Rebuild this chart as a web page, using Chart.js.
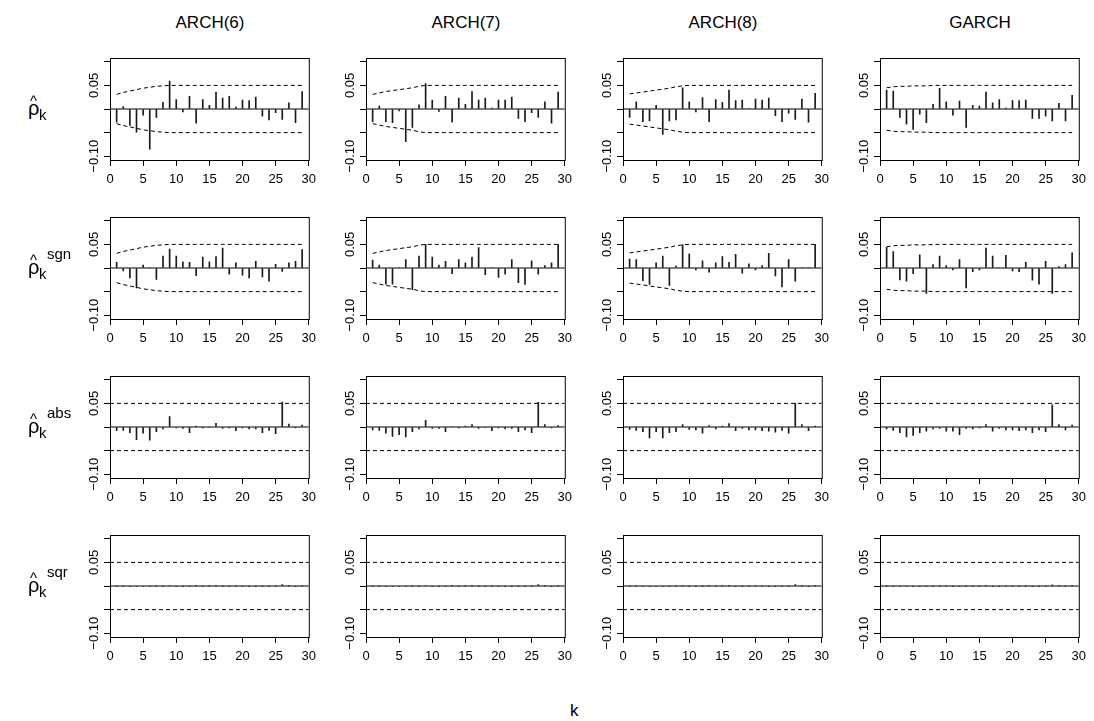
<!DOCTYPE html>
<html lang="en">
<head>
<meta charset="UTF-8">
<title>Residual autocorrelations</title>
<script src="https://cdn.jsdelivr.net/npm/chart.js@4"></script>
<style>
  body { margin: 0; background: #fff; font-family: "Liberation Sans", Arial, Helvetica, sans-serif; }
  #page { position: relative; width: 1094px; height: 721px; overflow: hidden; }
  canvas { position: absolute; }
  .txt { position: absolute; white-space: nowrap; line-height: 1; color: #000; }
</style>
</head>
<body>
<div id="page"></div>
<script>
// lags shown in every panel
const lags = [1,2,3,4,5,6,7,8,9,10,11,12,13,14,15,16,17,18,19,20,21,22,23,24,25,26,27,28,29];
const models = ['ARCH(6)', 'ARCH(7)', 'ARCH(8)', 'GARCH'];
const rowSup = ['', 'sgn', 'abs', 'sqr'];
const xTicks = [0, 5, 10, 15, 20, 25, 30];
const yTicks = [-0.10, -0.05, 0, 0.05, 0.10];
const yTickLabels = ['\u22120.10', '', '', '0.05', ''];
const xRange = [0, 30];
const yRange = [-0.108, 0.108];

// plain residual autocorrelations
const rawArch6 = [-0.028,0.005,-0.035,-0.049,-0.013,-0.085,-0.018,0.014,0.059,0.020,-0.006,0.027,-0.030,0.020,0.008,0.036,0.023,0.027,0.004,0.019,0.018,0.025,-0.015,-0.023,-0.008,-0.022,0.013,-0.029,0.037];
const rawArch7 = [-0.027,0.006,-0.027,-0.029,-0.004,-0.069,-0.039,0.009,0.054,0.019,-0.005,0.027,-0.028,0.023,0.010,0.037,0.019,0.023,0.002,0.019,0.019,0.025,-0.020,-0.027,-0.008,-0.018,0.015,-0.030,0.036];
const rawArch8 = [-0.018,0.015,-0.027,-0.025,0.008,-0.054,-0.025,-0.023,0.045,0.015,-0.006,0.024,-0.027,0.020,0.014,0.040,0.018,0.019,0.001,0.021,0.019,0.023,-0.014,-0.027,-0.009,-0.022,0.021,-0.028,0.033];
const rawGarch = [0.040,0.038,-0.018,-0.032,-0.043,-0.011,-0.029,0.010,0.044,0.015,-0.013,0.017,-0.039,0.008,0.006,0.036,0.013,0.020,0.002,0.018,0.018,0.019,-0.020,-0.020,-0.015,-0.025,0.012,-0.025,0.029];

// sign autocorrelations
const sgnArch6 = [0.012,-0.006,-0.021,-0.042,0.006,0.001,-0.024,0.025,0.040,0.025,0.013,0.012,-0.016,0.023,0.013,0.024,0.042,-0.013,0.011,-0.015,-0.021,0.014,-0.019,-0.028,0.008,-0.007,0.011,0.014,0.039];
const sgnArch7 = [0.017,0.006,-0.034,-0.034,0.001,0.018,-0.046,0.025,0.050,0.023,0.006,0.014,-0.012,0.018,0.011,0.023,0.043,-0.014,0.001,-0.020,-0.013,0.018,-0.031,-0.035,0.015,-0.013,0.005,0.011,0.050];
const sgnArch8 = [0.019,0.018,-0.027,-0.035,0.011,0.025,-0.037,0.004,0.049,0.030,-0.004,0.015,-0.009,0.011,0.024,0.012,0.029,-0.011,0.009,-0.004,0.005,0.031,-0.017,-0.040,0.018,-0.028,0.001,0.001,0.050];
const sgnGarch = [0.044,0.035,-0.025,-0.028,-0.012,0.028,-0.054,0.007,0.025,0.005,-0.004,0.018,-0.042,-0.008,-0.004,0.042,0.025,0.001,0.027,-0.006,-0.008,0.012,-0.026,-0.034,0.014,-0.054,0.003,0.007,0.032];

// absolute value autocorrelations
const absArch6 = [-0.008,-0.007,-0.012,-0.027,-0.013,-0.028,-0.010,-0.004,0.022,-0.002,-0.003,-0.012,0.002,-0.002,-0.001,0.008,-0.003,-0.002,-0.008,-0.002,-0.004,-0.004,-0.012,-0.007,-0.014,0.053,0.006,-0.002,0.004];
const absArch7 = [-0.006,-0.007,-0.013,-0.020,-0.016,-0.021,-0.010,-0.004,0.014,-0.003,-0.003,-0.010,0.001,-0.002,0.002,0.005,-0.003,-0.001,-0.008,-0.002,-0.004,-0.003,-0.010,-0.006,-0.012,0.052,0.005,-0.002,0.003];
const absArch8 = [-0.005,-0.007,-0.010,-0.023,-0.010,-0.023,-0.012,-0.010,0.005,-0.005,-0.006,-0.013,0.003,-0.004,0.002,0.007,-0.008,-0.003,-0.006,-0.006,-0.008,-0.009,-0.011,-0.007,-0.013,0.050,0.005,-0.008,0.002];
const absGarch = [-0.004,-0.007,-0.012,-0.021,-0.018,-0.012,-0.009,-0.004,-0.003,-0.009,-0.009,-0.016,-0.003,-0.004,-0.002,0.005,-0.009,-0.003,-0.006,-0.006,-0.008,-0.006,-0.012,-0.006,-0.010,0.047,0.005,-0.006,0.004];

// squared autocorrelations
const sqrArch6 = [-0.0004,-0.0003,-0.0006,-0.0008,-0.0005,-0.0009,-0.0004,-0.0002,0.0006,-0.0002,-0.0002,-0.0004,0.0001,-0.0001,0.0001,0.0003,-0.0002,-0.0001,-0.0003,-0.0001,-0.0002,-0.0002,-0.0004,-0.0002,-0.0004,0.0030,0.0003,-0.0001,0.0001];
const sqrArch7 = [-0.0004,-0.0003,-0.0006,-0.0007,-0.0005,-0.0008,-0.0004,-0.0002,0.0005,-0.0002,-0.0002,-0.0004,0.0001,-0.0001,0.0001,0.0003,-0.0002,-0.0001,-0.0003,-0.0001,-0.0002,-0.0002,-0.0004,-0.0002,-0.0004,0.0030,0.0003,-0.0001,0.0001];
const sqrArch8 = [-0.0003,-0.0003,-0.0005,-0.0007,-0.0005,-0.0008,-0.0004,-0.0003,0.0003,-0.0002,-0.0002,-0.0004,0.0001,-0.0001,0.0001,0.0003,-0.0002,-0.0001,-0.0003,-0.0002,-0.0003,-0.0003,-0.0004,-0.0002,-0.0004,0.0028,0.0003,-0.0002,0.0001];
const sqrGarch = [-0.0003,-0.0003,-0.0005,-0.0007,-0.0006,-0.0005,-0.0004,-0.0002,-0.0001,-0.0003,-0.0003,-0.0005,-0.0001,-0.0001,-0.0001,0.0002,-0.0003,-0.0001,-0.0002,-0.0002,-0.0003,-0.0002,-0.0004,-0.0002,-0.0003,0.0026,0.0002,-0.0002,0.0001];

// +/- confidence bounds per lag (rows 1 and 2), flat bounds for rows 3 and 4
const bandArch6 = [0.031,0.035,0.038,0.041,0.044,0.046,0.048,0.049,0.050,0.050,0.050,0.050,0.050,0.050,0.050,0.050,0.050,0.050,0.050,0.050,0.050,0.050,0.050,0.050,0.050,0.050,0.050,0.050,0.050];
const bandArch7 = [0.031,0.034,0.037,0.039,0.041,0.043,0.045,0.048,0.050,0.050,0.050,0.050,0.050,0.050,0.050,0.050,0.050,0.050,0.050,0.050,0.050,0.050,0.050,0.050,0.050,0.050,0.050,0.050,0.050];
const bandArch8 = [0.032,0.034,0.036,0.038,0.040,0.042,0.044,0.047,0.049,0.050,0.050,0.050,0.050,0.050,0.050,0.050,0.050,0.050,0.050,0.050,0.050,0.050,0.050,0.050,0.050,0.050,0.050,0.050,0.050];
const bandGarch = [0.045,0.047,0.048,0.048,0.049,0.049,0.049,0.050,0.050,0.050,0.050,0.050,0.050,0.050,0.050,0.050,0.050,0.050,0.050,0.050,0.050,0.050,0.050,0.050,0.050,0.050,0.050,0.050,0.050];
const flatX = [0, 30];
const bandFlat = [0.05, 0.05];

const panels = [
  [rawArch6, rawArch7, rawArch8, rawGarch],
  [sgnArch6, sgnArch7, sgnArch8, sgnGarch],
  [absArch6, absArch7, absArch8, absGarch],
  [sqrArch6, sqrArch7, sqrArch8, sqrGarch]
];
const bands = [bandArch6, bandArch7, bandArch8, bandGarch];

// page geometry (plot box corners)
const colLeft = [110, 366, 623, 880];
const rowTop = [58, 217, 376, 535];
const boxW = 200, boxH = 102;
const padL = 45, padT = 8, padR = 12, padB = 34;

const FONT = '"Liberation Sans", Arial, Helvetica, sans-serif';
Chart.defaults.font.family = FONT;
Chart.defaults.color = '#000';

const page = document.getElementById('page');

function addText(str, left, baseline, size, extra) {
  const el = document.createElement('div');
  el.className = 'txt';
  el.textContent = str;
  el.style.fontSize = size + 'px';
  el.style.left = left + 'px';
  el.style.top = (baseline - 0.8465 * size) + 'px';
  if (extra) Object.assign(el.style, extra);
  page.appendChild(el);
  return el;
}

const boxPlugin = {
  id: 'rbox',
  afterDatasetsDraw(chart) {
    const a = chart.chartArea, ctx = chart.ctx;
    ctx.save();
    ctx.strokeStyle = '#000';
    ctx.lineWidth = 1;
    ctx.strokeRect(a.left + 0.5, a.top + 0.5, a.right - a.left, a.bottom - a.top);
    ctx.restore();
  }
};

// y labels are written along the axis, as R does
const yLabelPlugin = {
  id: 'ylabels',
  afterDraw(chart) {
    const ys = chart.scales.y, a = chart.chartArea, ctx = chart.ctx;
    ctx.save();
    ctx.fillStyle = '#000';
    ctx.font = '13px ' + FONT;
    ctx.textAlign = 'center';
    ctx.textBaseline = 'alphabetic';
    yTicks.forEach((v, i) => {
      const lab = yTickLabels[i];
      if (!lab) return;
      ctx.save();
      ctx.translate(a.left - 12, ys.getPixelForValue(v));
      ctx.rotate(-Math.PI / 2);
      ctx.fillText(lab, 0, 0);
      ctx.restore();
    });
    ctx.restore();
  }
};

function makePanel(r, c) {
  const cv = document.createElement('canvas');
  cv.width = padL + boxW + padR;
  cv.height = padT + boxH + padB;
  cv.style.left = (colLeft[c] - padL) + 'px';
  cv.style.top = (rowTop[r] - padT) + 'px';
  page.appendChild(cv);

  const vals = panels[r][c];
  const bx = r < 2 ? lags : flatX;
  const bv = r < 2 ? bands[c] : bandFlat;
  const dash = { type: 'line', borderColor: '#000', borderWidth: 1, borderDash: [4, 3],
                 pointRadius: 0, fill: false, tension: 0.4, cubicInterpolationMode: 'monotone' };

  new Chart(cv.getContext('2d'), {
    type: 'bar',
    data: {
      datasets: [
        { type: 'bar', data: lags.map((k, i) => ({ x: k, y: vals[i] })),
          backgroundColor: '#1a1a1a', borderWidth: 0, barThickness: 1 },
        Object.assign({ data: bx.map((x, i) => ({ x: x, y: bv[i] })) }, dash),
        Object.assign({ data: bx.map((x, i) => ({ x: x, y: -bv[i] })) }, dash),
        { type: 'line', data: [{ x: xRange[0], y: 0 }, { x: xRange[1], y: 0 }],
          borderColor: '#000', borderWidth: 1, pointRadius: 0, fill: false }
      ]
    },
    options: {
      responsive: false,
      animation: false,
      devicePixelRatio: 1,
      events: [],
      layout: { padding: { top: padT, right: padR, left: 0, bottom: 0 } },
      plugins: { legend: { display: false }, tooltip: { enabled: false } },
      scales: {
        x: {
          type: 'linear', min: xRange[0], max: xRange[1], offset: false,
          afterBuildTicks: s => { s.ticks = xTicks.map(v => ({ value: v })); },
          afterFit: s => { s.height = padB; },
          border: { display: false },
          grid: { drawOnChartArea: false, drawTicks: true, tickLength: 6, color: '#000', offset: false },
          ticks: { font: { size: 13 }, color: '#000', padding: 6, maxRotation: 0, autoSkip: false }
        },
        y: {
          type: 'linear', min: yRange[0], max: yRange[1],
          afterBuildTicks: s => { s.ticks = yTicks.map(v => ({ value: v })); },
          afterFit: s => { s.width = padL; },
          border: { display: false },
          grid: { drawOnChartArea: false, drawTicks: true, tickLength: 6, color: '#000' },
          ticks: { display: false }
        }
      }
    },
    plugins: [boxPlugin, yLabelPlugin]
  });
}

for (let r = 0; r < 4; r++) for (let c = 0; c < 4; c++) makePanel(r, c);

// column titles
models.forEach((m, c) => {
  addText(m, colLeft[c], 28, 17, { width: boxW + 'px', textAlign: 'center' });
});

// row labels: rho hat, subscript k, superscript
rowSup.forEach((s, r) => {
  const base = rowTop[r] + 57;
  addText('\u03C1', 28, base, 20);
  addText('^', 30, base - 9, 15);
  addText('k', 39, base + 5, 15);
  if (s) addText(s, 47, base - 15, 15);
});

// x axis label
addText('k', 570, 716, 17);
</script>
</body>
</html>
